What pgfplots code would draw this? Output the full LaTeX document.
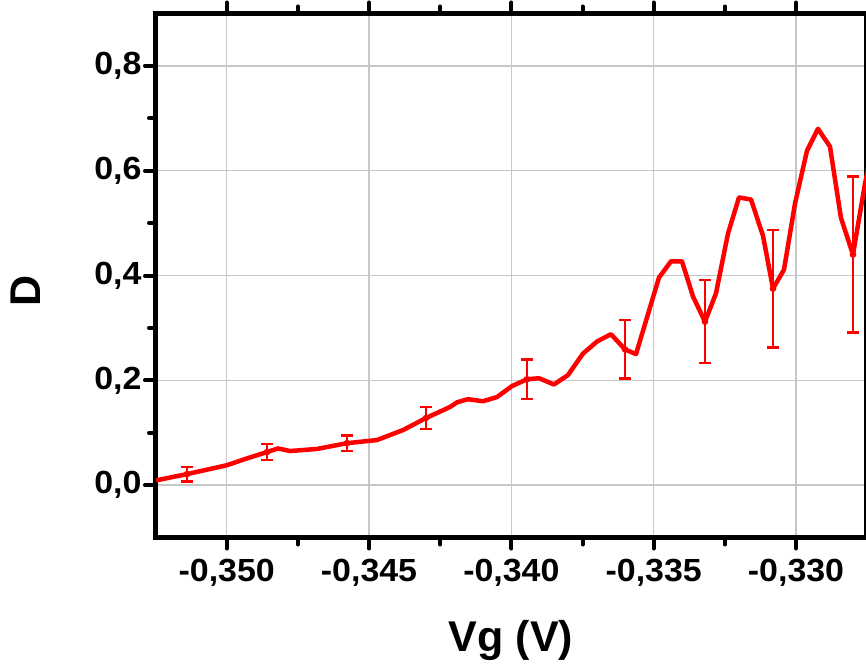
\documentclass[border=0pt]{standalone}
\usepackage{fontspec}
\setmainfont{Liberation Sans}
\newfontfamily\tickfont{Liberation Sans}[FakeStretch=1.06]
\usepackage{pgfplots}
\pgfplotsset{compat=1.18}
\begin{document}
\begin{tikzpicture}
\begin{axis}[
  scale only axis,
  width=710pt, height=524pt,
  at={(0,0)}, anchor=south west,
  xmin=-0.352484, xmax=-0.327541,
  ymin=-0.1, ymax=0.9,
  xtick={-0.350,-0.345,-0.340,-0.335,-0.330},
  xticklabels={{-0,350},{-0,345},{-0,340},{-0,335},{-0,330}},
  ytick={0,0.2,0.4,0.6,0.8},
  yticklabels={{0,0},{0,2},{0,4},{0,6},{0,8}},
  minor x tick num=1, minor y tick num=1,
  xtick pos=both, ytick pos=left,
  tick align=outside,
  major tick length=11pt, minor tick length=7pt,
  every tick/.style={black, line width=4pt, line cap=round},
  grid=major,
  major grid style={line width=1.3pt, color=black!22},
  axis line style={line width=5pt},
  tick label style={font=\tickfont\fontsize{32}{32}\selectfont\bfseries},
  xticklabel style={yshift=-7pt},
  xlabel={Vg (V)}, ylabel={D},
  label style={font=\fontsize{43}{43}\selectfont\bfseries},
  x label style={at={(axis description cs:0.5,-0.2166)}, anchor=base},
  y label style={at={(axis description cs:-0.183,0.47)}, anchor=center},
]
\addplot[red, line width=4.5pt, line join=round] coordinates {
(-0.352484,0.009)
(-0.351395,0.021)
(-0.349989,0.038)
(-0.349287,0.051)
(-0.348584,0.063)
(-0.348198,0.070)
(-0.347776,0.065)
(-0.346828,0.069)
(-0.345774,0.080)
(-0.344720,0.086)
(-0.343807,0.105)
(-0.342999,0.128)
(-0.342156,0.149)
(-0.341910,0.158)
(-0.341524,0.164)
(-0.340997,0.160)
(-0.340505,0.168)
(-0.339978,0.189)
(-0.339451,0.202)
(-0.339030,0.204)
(-0.338503,0.192)
(-0.338011,0.210)
(-0.337484,0.251)
(-0.336992,0.274)
(-0.336500,0.288)
(-0.336008,0.259)
(-0.335621,0.250)
(-0.335235,0.320)
(-0.334814,0.396)
(-0.334392,0.427)
(-0.334006,0.427)
(-0.333619,0.360)
(-0.333198,0.312)
(-0.332811,0.366)
(-0.332390,0.480)
(-0.332003,0.549)
(-0.331582,0.545)
(-0.331160,0.476)
(-0.330809,0.375)
(-0.330423,0.411)
(-0.330036,0.537)
(-0.329615,0.638)
(-0.329228,0.680)
(-0.328807,0.646)
(-0.328421,0.510)
(-0.327999,0.440)
(-0.327578,0.575)
(-0.327400,0.620)
};
\addplot[red, line width=2.5pt, only marks, mark=none,
  error bars/.cd, y dir=both, y explicit,
  error mark=|,
  error bar style={red, line width=2.5pt, line cap=butt},
  error mark options={red, mark size=6pt, line width=2.5pt}]
  table[x=x, y=y, y error=e] {
x y e
-0.351395 0.021 0.014
-0.348584 0.063 0.015
-0.345774 0.080 0.015
-0.342999 0.128 0.021
-0.339451 0.202 0.038
-0.336008 0.259 0.056
-0.333198 0.312 0.079
-0.330809 0.375 0.112
-0.327999 0.440 0.149
};
\end{axis}
\pgfresetboundingbox
\path[use as bounding box] (-156pt,-127.5pt) rectangle (710pt,537.5pt);
\end{tikzpicture}
\end{document}
